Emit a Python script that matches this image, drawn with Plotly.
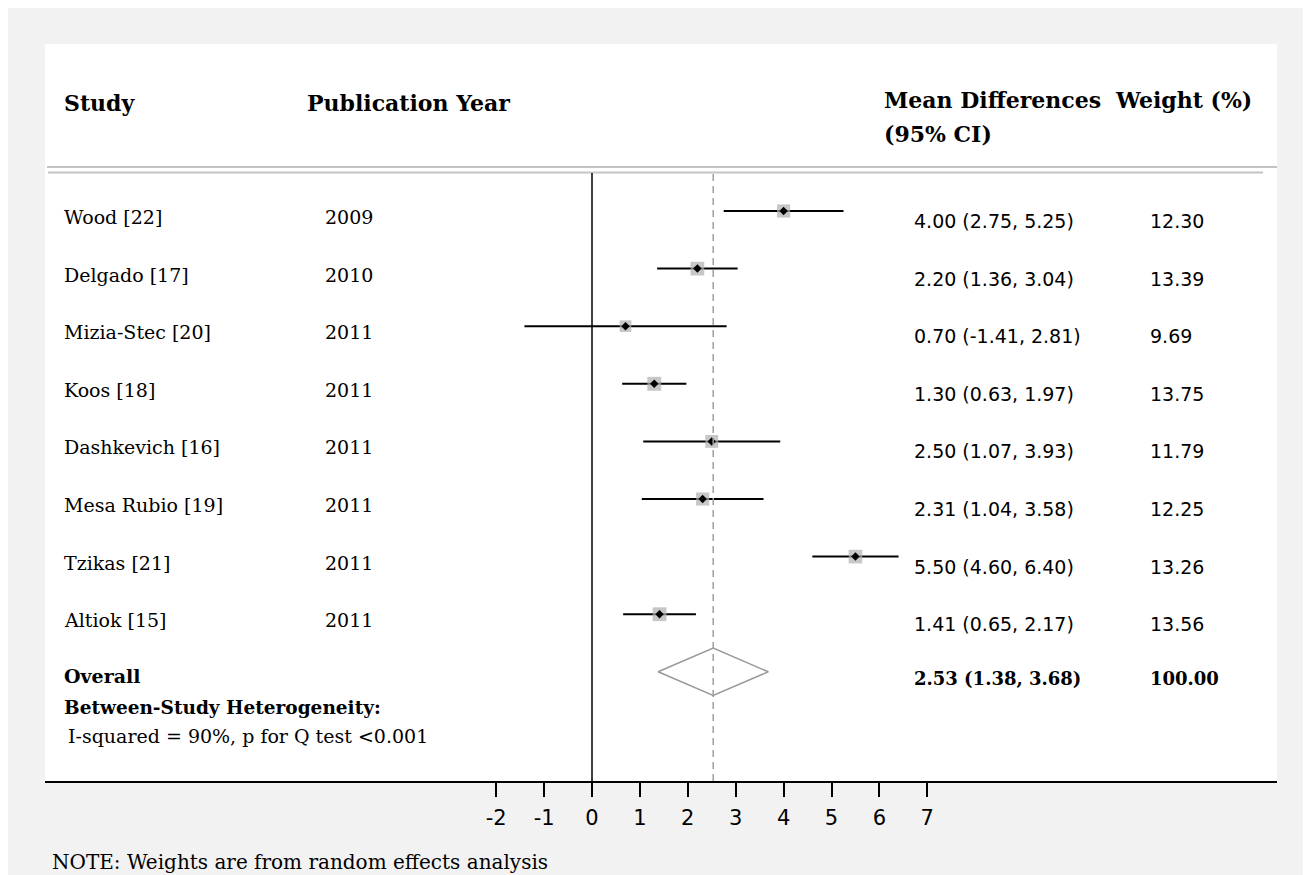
import plotly.graph_objects as go

# ---------------- data ----------------
studies = ["Wood [22]", "Delgado [17]", "Mizia-Stec [20]", "Koos [18]",
           "Dashkevich [16]", "Mesa Rubio [19]", "Tzikas [21]", "Altiok [15]"]
years = [2009, 2010, 2011, 2011, 2011, 2011, 2011, 2011]
mean_diff = [4.00, 2.20, 0.70, 1.30, 2.50, 2.31, 5.50, 1.41]
ci_low = [2.75, 1.36, -1.41, 0.63, 1.07, 1.04, 4.60, 0.65]
ci_high = [5.25, 3.04, 2.81, 1.97, 3.93, 3.58, 6.40, 2.17]
weights = [12.30, 13.39, 9.69, 13.75, 11.79, 12.25, 13.26, 13.56]

overall_md = 2.53
overall_low = 1.38
overall_high = 3.68
overall_weight = 100.00

tick_vals = [-2, -1, 0, 1, 2, 3, 4, 5, 6, 7]

header_labels = ["Study", "Publication Year", "Mean Differences", "(95% CI)", "Weight (%)"]
heterogeneity_title = "Between-Study Heterogeneity:"
heterogeneity_text = "I-squared = 90%, p for Q test <0.001"
note_text = "NOTE: Weights are from random effects analysis"

# ---------------- layout helpers ----------------
W, H = 1303, 867
OFF = 8          # page body margin
PX0 = 592.0      # page pixel of x = 0
PXU = 47.9       # pixels per unit
ROW0 = 211.0     # page pixel of first row
ROWH = 57.6      # row height in px
PANEL_L, PANEL_R, PANEL_T, PANEL_B = 45, 1277, 44, 781

def fx(px):
    return (px - OFF) / W

def fy(py):
    return (H - (py - OFF)) / H

n = len(studies)
rows = list(range(1, n + 1))
overall_row = n + 1

x_range = [(PANEL_L - PX0) / PXU, (PANEL_R - PX0) / PXU]
y_range = [1 + (PANEL_B - ROW0) / ROWH, 1 - (ROW0 - PANEL_T) / ROWH]

SERIF = "DejaVu Serif"
SANS = "DejaVu Sans"

fig = go.Figure()

# CI lines + weighted squares
fig.add_trace(go.Scatter(
    x=mean_diff, y=rows, mode="markers",
    marker=dict(symbol="square", color="#afafaf",
                size=[3.75 * (w ** 0.5) for w in weights], line=dict(width=0)),
    error_x=dict(type="data", symmetric=False,
                 array=[h - m for h, m in zip(ci_high, mean_diff)],
                 arrayminus=[m - l for m, l in zip(mean_diff, ci_low)],
                 color="black", thickness=2, width=0),
    hoverinfo="skip", showlegend=False))

# point estimates
fig.add_trace(go.Scatter(
    x=mean_diff, y=rows, mode="markers",
    marker=dict(symbol="diamond", color="black", size=6.5),
    hoverinfo="skip", showlegend=False))

# overall diamond
dh = 0.41
fig.add_trace(go.Scatter(
    x=[overall_low, overall_md, overall_high, overall_md, overall_low],
    y=[overall_row, overall_row - dh, overall_row, overall_row + dh, overall_row],
    mode="lines", line=dict(color="#999999", width=1.5),
    hoverinfo="skip", showlegend=False))

shapes = []
# header separators
shapes.append(dict(type="line", xref="paper", yref="paper", x0=fx(47), x1=fx(1277),
                   y0=fy(167), y1=fy(167), line=dict(color="#c4c4c4", width=2)))
shapes.append(dict(type="line", xref="paper", yref="paper", x0=fx(48), x1=fx(1263),
                   y0=fy(172.5), y1=fy(172.5), line=dict(color="#c4c4c4", width=2)))
# zero line
shapes.append(dict(type="line", xref="x", yref="paper", x0=0, x1=0,
                   y0=fy(PANEL_B), y1=fy(173), line=dict(color="black", width=1.5)))
# overall dashed line
shapes.append(dict(type="line", xref="x", yref="paper", x0=overall_md, x1=overall_md,
                   y0=fy(PANEL_B), y1=fy(173),
                   line=dict(color="#a0a0a0", width=1.5, dash="7px,5px")))

ann = []

def add_text(text, px, yval, yref, size, family, bold=False, yshift=0):
    t = f"<b>{text}</b>" if bold else text
    ann.append(dict(text=t, x=fx(px), xref="paper", y=yval, yref=yref,
                    xanchor="left", yanchor="middle", showarrow=False,
                    yshift=yshift, align="left",
                    font=dict(family=family, size=size, color="black")))

# headers
add_text(header_labels[0], 62, fy(103), "paper", 22, SERIF, True)
add_text(header_labels[1], 305, fy(103), "paper", 22, SERIF, True)
add_text(header_labels[2], 882, fy(100), "paper", 22, SERIF, True)
add_text(header_labels[3], 882, fy(134), "paper", 22, SERIF, True)
add_text(header_labels[4], 1113, fy(100), "paper", 22, SERIF, True)

# rows
for i in range(n):
    r = rows[i]
    add_text(studies[i], 62, r, "y", 19, SERIF, yshift=-6)
    add_text(str(years[i]), 323, r, "y", 19, SERIF, yshift=-6)
    add_text(f"{mean_diff[i]:.2f} ({ci_low[i]:.2f}, {ci_high[i]:.2f})", 912, r, "y", 19, SANS, yshift=-10)
    add_text(f"{weights[i]:.2f}", 1148, r, "y", 19, SANS, yshift=-10)

# overall
add_text("Overall", 62, overall_row, "y", 19, SERIF, True, yshift=-4)
add_text(f"{overall_md:.2f} ({overall_low:.2f}, {overall_high:.2f})", 912, overall_row, "y", 18, SERIF, True, yshift=-7)
add_text(f"{overall_weight:.2f}", 1148, overall_row, "y", 18, SERIF, True, yshift=-7)
add_text(heterogeneity_title, 62, fy(707), "paper", 18.5, SERIF, True)
add_text(heterogeneity_text, 66, fy(736), "paper", 19, SERIF)
add_text(note_text, 50, fy(862), "paper", 20, SERIF)

fig.update_layout(
    width=W, height=H, autosize=False,
    margin=dict(l=0, r=0, t=0, b=0),
    paper_bgcolor="#f2f2f2", plot_bgcolor="white",
    shapes=shapes, annotations=ann,
    xaxis=dict(domain=[fx(PANEL_L), fx(PANEL_R)], range=x_range,
               tickvals=tick_vals, ticktext=[str(v) for v in tick_vals],
               showline=True, linecolor="black", linewidth=2,
               ticks="outside", ticklen=14, tickwidth=1.5, tickcolor="black",
               ticklabelstandoff=3,
               showgrid=False, zeroline=False, fixedrange=True,
               tickfont=dict(family=SANS, size=21, color="black")),
    yaxis=dict(domain=[fy(PANEL_B), fy(PANEL_T)], range=y_range,
               visible=False, showgrid=False, zeroline=False, fixedrange=True),
)

fig.write_html("out.html")
